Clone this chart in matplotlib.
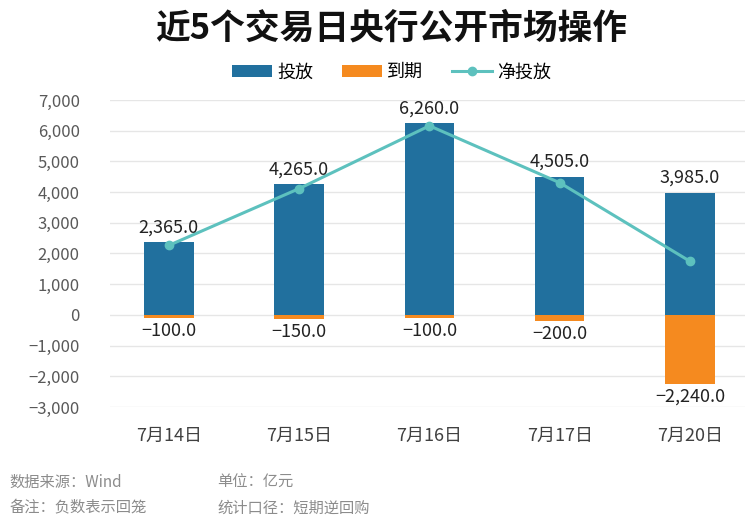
import matplotlib
matplotlib.use('Agg')
import matplotlib.pyplot as plt
from matplotlib.ticker import FuncFormatter
import numpy as np

plt.rcParams['font.family'] = ['Noto Sans CJK SC', 'DejaVu Sans']

dates = ['7月14日', '7月15日', '7月16日', '7月17日', '7月20日']
injection = [2365, 4265, 6260, 4505, 3985]
maturity = [-100, -150, -100, -200, -2240]
net = [a + b for a, b in zip(injection, maturity)]

blue = '#21709E'
orange = '#F58A1F'
teal = '#5DC1BE'

fig = plt.figure(figsize=(7.5, 5.32), dpi=100)
ax = fig.add_axes([0.147, 0.235, 0.846, 0.577])

x = np.arange(len(dates))
w = 0.38
b1 = ax.bar(x, injection, w, color=blue, label='投放', zorder=2)
b2 = ax.bar(x, maturity, w, color=orange, label='到期', zorder=2)
l1, = ax.plot(x, net, color=teal, lw=2.2, marker='o', ms=6, label='净投放', zorder=3)

for i in range(len(x)):
    ax.text(x[i], injection[i] + 180, f'{injection[i]:,.1f}', ha='center', va='bottom',
            fontsize=13, color='#222222')
    ax.text(x[i], maturity[i] - 130, f'{maturity[i]:,.1f}'.replace('-', '−'), ha='center', va='top',
            fontsize=13, color='#222222')

ax.set_ylim(-3000, 7000)
ax.set_yticks(range(-3000, 7001, 1000))
ax.yaxis.set_major_formatter(FuncFormatter(lambda v, p: f'{int(v):,}'.replace('-', '−')))
ax.set_xlim(-0.45, 4.42)
ax.set_xticks(x)
ax.set_xticklabels(dates, fontsize=13, color='#404040')
ax.tick_params(axis='y', labelsize=12, labelcolor='#595959', length=0, pad=22)
ax.tick_params(axis='x', length=0, pad=14)
ax.grid(axis='y', color='#E6E6E6', lw=1, zorder=0)
for s in ax.spines.values():
    s.set_visible(False)

fig.text(0.522, 0.947, '近5个交易日央行公开市场操作', ha='center', va='center',
         fontsize=25, fontweight='bold', color='#111111')
fig.legend([b1, b2, l1], ['投放', '到期', '净投放'], loc='center', bbox_to_anchor=(0.522, 0.864),
           ncol=3, frameon=False, fontsize=13, handlelength=2.2, columnspacing=1.6,
           handletextpad=0.3)

fig.text(0.013, 0.094, '数据来源：Wind', fontsize=11, color='#8C8C8C', va='center')
fig.text(0.29, 0.094, '单位：亿元', fontsize=11, color='#8C8C8C', va='center')
fig.text(0.013, 0.045, '备注：负数表示回笼', fontsize=11, color='#8C8C8C', va='center')
fig.text(0.29, 0.045, '统计口径：短期逆回购', fontsize=11, color='#8C8C8C', va='center')

fig.savefig('out.png', dpi=100)
